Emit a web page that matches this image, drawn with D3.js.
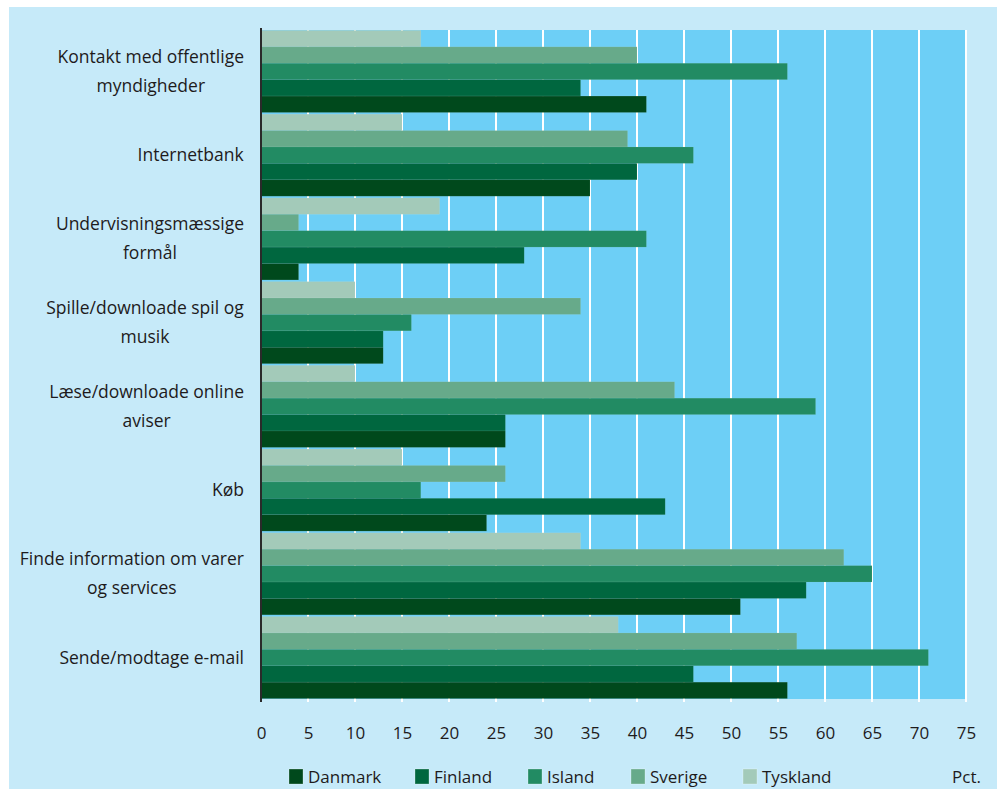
<!DOCTYPE html>
<html>
<head>
<meta charset="utf-8">
<script src="https://cdn.jsdelivr.net/npm/d3@7"></script>
<style>
  html, body { margin: 0; padding: 0; background: #fff; }
  svg { display: block; }
  text { font-family: "Open Sans", sans-serif; fill: #1e1b1c; }
</style>
</head>
<body>
<svg id="chart" width="997" height="789"></svg>
<script>
// Kategorier (top til bund) - linjeskift markeret med "|"
const categories = [
  "Kontakt med offentlige|myndigheder",
  "Internetbank",
  "Undervisningsmæssige|formål",
  "Spille/downloade spil og|musik",
  "Læse/downloade online|aviser",
  "Køb",
  "Finde information om varer|og services",
  "Sende/modtage e-mail"
];

// Lande i legend-rækkefølge
const countries = ["Danmark", "Finland", "Island", "Sverige", "Tyskland"];
// Rækkefølge i hver gruppe, top til bund
const barOrder = ["Tyskland", "Sverige", "Island", "Finland", "Danmark"];

const danmark  = [41, 35, 4, 13, 26, 24, 51, 56];
const finland  = [34, 40, 28, 13, 26, 43, 58, 46];
const island   = [56, 46, 41, 16, 59, 17, 65, 71];
const sverige  = [40, 39, 4, 34, 44, 26, 62, 57];
const tyskland = [17, 15, 19, 10, 10, 15, 34, 38];

const xTicks = [0, 5, 10, 15, 20, 25, 30, 35, 40, 45, 50, 55, 60, 65, 70, 75];

const colors = {
  Danmark: "#00491c",
  Finland: "#00673f",
  Island: "#228b63",
  Sverige: "#67aa8a",
  Tyskland: "#a3cab9"
};

const seriesValues = { Danmark: danmark, Finland: finland, Island: island, Sverige: sverige, Tyskland: tyskland };

const svg = d3.select("#chart");

// baggrundspanel
svg.append("rect").attr("x", 9).attr("y", 7).attr("width", 988).attr("height", 782).attr("fill", "#c6eaf9");

const plot = { left: 261, right: 966, top: 30, bottom: 699 };

const x = d3.scaleLinear().domain([0, 75]).range([plot.left, plot.right]);
const y = d3.scaleBand().domain(categories).range([plot.top, plot.bottom]).paddingInner(0.02).paddingOuter(0.005);
const yInner = d3.scaleBand().domain(barOrder).range([0, y.bandwidth()]).padding(0);

// plot-område
svg.append("rect")
  .attr("x", plot.left).attr("y", plot.top)
  .attr("width", plot.right - plot.left).attr("height", plot.bottom - plot.top)
  .attr("fill", "#6dcff6");

// gitterlinjer
svg.append("g").selectAll("line").data(xTicks.slice(1)).join("line")
  .attr("x1", d => x(d)).attr("x2", d => x(d))
  .attr("y1", plot.top).attr("y2", plot.bottom + 3)
  .attr("stroke", "#fff").attr("stroke-width", 2);

// søjler
const groups = svg.append("g").selectAll("g").data(categories).join("g")
  .attr("transform", d => `translate(0,${y(d)})`);

groups.selectAll("rect")
  .data((d, i) => barOrder.map(c => ({ country: c, value: seriesValues[c][i] })))
  .join("rect")
  .attr("x", x(0))
  .attr("y", d => yInner(d.country))
  .attr("width", d => x(d.value) - x(0))
  .attr("height", yInner.bandwidth())
  .attr("fill", d => colors[d.country])
  .attr("stroke", "rgba(255,255,255,0.12)")
  .attr("stroke-width", 0.6);

// venstre akse-linje
svg.append("line")
  .attr("x1", plot.left).attr("x2", plot.left)
  .attr("y1", plot.top - 2).attr("y2", plot.bottom + 3)
  .attr("stroke", "#2a2a2a").attr("stroke-width", 2);

// x-akse tal
const xAxis = d3.axisBottom(x).tickValues(xTicks).tickSize(0).tickPadding(0);
const gx = svg.append("g").attr("transform", `translate(0,${plot.bottom})`).call(xAxis);
gx.select(".domain").remove();
gx.selectAll("text")
  .attr("y", 40)
  .attr("dy", null)
  .style("font-family", "'Open Sans', sans-serif")
  .style("font-size", "17px")
  .attr("fill", "#1e1b1c");

// kategori-etiketter
const labels = svg.append("g").selectAll("text").data(categories).join("text")
  .attr("text-anchor", "middle")
  .style("font-size", "17.5px");

labels.each(function (d) {
  const lines = d.split("|");
  const t = d3.select(this);
  const lh = 29;
  const cy = y(d) + y.bandwidth() / 2;
  lines.forEach((ln, i) => {
    t.append("tspan")
      .attr("x", 0)
      .attr("y", cy + (i - (lines.length - 1) / 2) * lh + 6)
      .text(ln);
  });
  // højrestil blokken ved x = 244, linjerne centreret indbyrdes
  const w = this.getBBox().width;
  t.selectAll("tspan").attr("x", 244 - w / 2);
});

// legend
const legendX = [289, 415, 528, 631, 743];
const legend = svg.append("g").selectAll("g").data(countries).join("g")
  .attr("transform", (d, i) => `translate(${legendX[i]},769)`);
legend.append("rect")
  .attr("width", 14).attr("height", 15)
  .attr("fill", d => colors[d])
  .attr("stroke", "rgba(255,255,255,0.35)").attr("stroke-width", 0.8);
legend.append("text")
  .attr("x", 19).attr("y", 14)
  .style("font-size", "17px")
  .text(d => d);

svg.append("text")
  .attr("x", 981).attr("y", 783)
  .attr("text-anchor", "end")
  .style("font-size", "17px")
  .text("Pct.");
</script>
</body>
</html>
